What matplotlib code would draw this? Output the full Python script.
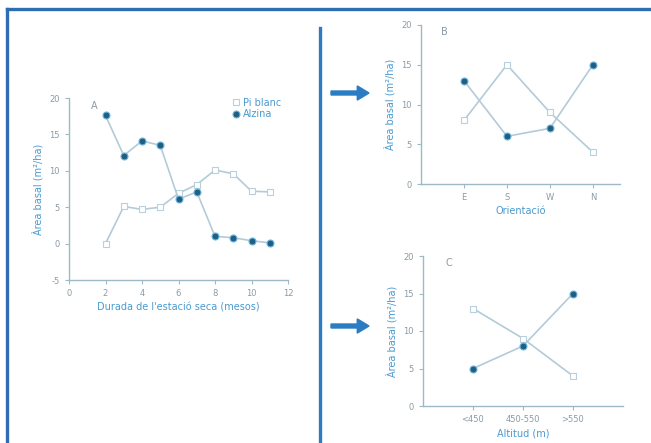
import matplotlib.pyplot as plt
from matplotlib.lines import Line2D
from matplotlib.patches import FancyArrow

# Panel A: dry-season length (months)
mesos = [2, 3, 4, 5, 6, 7, 8, 9, 10, 11]
pi_a = [0, 5.1, 4.7, 5.0, 6.9, 8.1, 10.1, 9.6, 7.2, 7.1]
alzina_a = [17.6, 12.1, 14.1, 13.5, 6.1, 7.1, 1.0, 0.8, 0.4, 0.1]

# Panel B: orientation
orientacio = ["E", "S", "W", "N"]
pi_b = [8, 15, 9, 4]
alzina_b = [13, 6, 7, 15]

# Panel C: altitude
altitud = ["<450", "450-550", ">550"]
pi_c = [13, 9, 4]
alzina_c = [5, 8, 15]

plt.rcParams["axes.unicode_minus"] = False

W, H = 651, 443
TXT = "#4a9ad0"
TICK = "#8a9aa6"
SPINE = "#9fb8c8"
LINE = "#b3cbd9"
BLUE = "#2b7cc2"

fig = plt.figure(figsize=(W / 100, H / 100), dpi=100)


def fx(px):
    return px / W


def fy(py):
    return 1 - py / H


def style(ax, ylim, yticks):
    ax.set_ylim(*ylim)
    ax.set_yticks(yticks)
    for s in ["top", "right"]:
        ax.spines[s].set_visible(False)
    for s in ["left", "bottom"]:
        ax.spines[s].set_color(SPINE)
        ax.spines[s].set_linewidth(1.0)
    ax.tick_params(colors=SPINE, labelcolor=TICK, labelsize=6, length=3, width=0.8)
    ax.set_ylabel("Àrea basal (m²/ha)", color=TXT, fontsize=7, labelpad=4)


def series(ax, x, pi, alz):
    ax.plot(x, pi, color=LINE, lw=1.2, marker="s", ms=4, mfc="white",
            mec="#b8cfdc", mew=0.8, label="Pi blanc", zorder=2)
    ax.plot(x, alz, color=LINE, lw=1.2, marker="o", ms=5, mfc="#1e5f82",
            mec="#6fb3dc", mew=0.8, label="Alzina", zorder=3)


# Panel A
axA = fig.add_axes([fx(69), fy(280), fx(288) - fx(69), fy(98) - fy(280)])
series(axA, mesos, pi_a, alzina_a)
style(axA, (-5, 20), [-5, 0, 5, 10, 15, 20])
axA.set_xlim(0, 12)
axA.set_xticks([0, 2, 4, 6, 8, 10, 12])
axA.set_xlabel("Durada de l'estació seca (mesos)", color=TXT, fontsize=7, labelpad=3)
axA.text(0.1, 0.985, "A", transform=axA.transAxes, fontsize=7, color=TICK, va="top")
axA.legend(loc="upper right", bbox_to_anchor=(1.0, 1.04), frameon=False, fontsize=7,
           labelcolor=TXT, handlelength=0.6, handletextpad=0.4, borderpad=0.2,
           labelspacing=0.2)
for h in axA.get_legend().get_lines():
    h.set_linestyle("none")

# Panel B
axB = fig.add_axes([fx(421), fy(184), fx(620) - fx(421), fy(25) - fy(184)])
xb = list(range(1, len(orientacio) + 1))
series(axB, xb, pi_b, alzina_b)
style(axB, (0, 20), [0, 5, 10, 15, 20])
axB.set_xlim(0, 4.63)
axB.set_xticks(xb)
axB.set_xticklabels(orientacio)
axB.set_xlabel("Orientació", color=TXT, fontsize=7, labelpad=3)
axB.text(0.1, 0.985, "B", transform=axB.transAxes, fontsize=7, color=TICK, va="top")

# Panel C
axC = fig.add_axes([fx(423), fy(406), fx(623) - fx(423), fy(256) - fy(406)])
xc = list(range(1, len(altitud) + 1))
series(axC, xc, pi_c, alzina_c)
style(axC, (0, 20), [0, 5, 10, 15, 20])
axC.set_xlim(0, 4.0)
axC.set_xticks(xc)
axC.set_xticklabels(altitud)
axC.set_xlabel("Altitud (m)", color=TXT, fontsize=7, labelpad=3)
axC.text(0.11, 0.985, "C", transform=axC.transAxes, fontsize=7, color=TICK, va="top")

# Frame, divider and arrows
fig.add_artist(Line2D([fx(7), fx(7)], [fy(9), 0], color="#2f6db3", lw=2.4))
fig.add_artist(Line2D([fx(7), 1], [fy(9), fy(9)], color="#2f6db3", lw=2.4))
fig.add_artist(Line2D([fx(320), fx(320)], [fy(28), 0], color=BLUE, lw=2.4))
for ya in [93, 326]:
    fig.add_artist(FancyArrow(fx(331), fy(ya), fx(369) - fx(331), 0,
                              width=0.009, head_width=0.032, head_length=0.018,
                              length_includes_head=True, color=BLUE,
                              transform=fig.transFigure))

fig.savefig("out.png", dpi=100)
